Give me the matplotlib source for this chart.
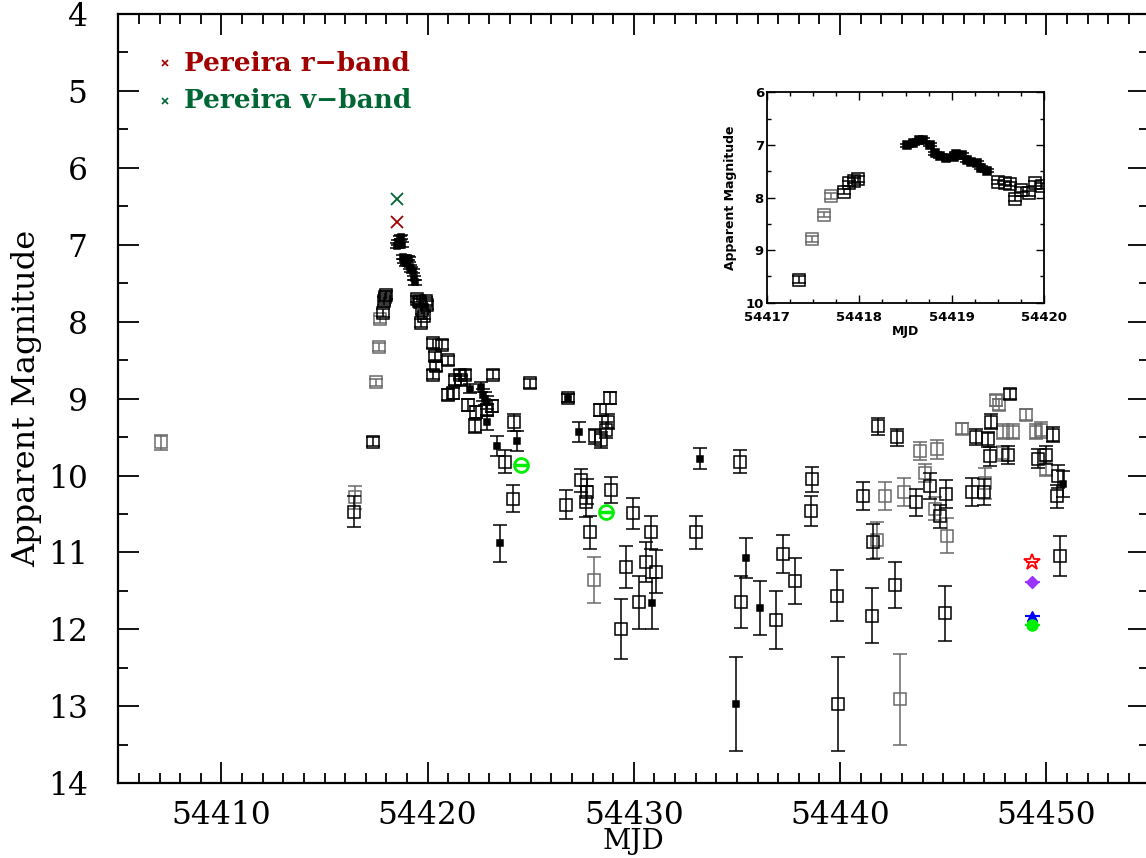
import matplotlib.pyplot as plt
from matplotlib.ticker import MultipleLocator

# black open squares: MJD, magnitude, error
bo_mjd = [54416.45, 54417.35, 54417.83, 54417.89, 54417.94, 54417.99, 54419.50, 54419.57,
          54419.63, 54419.68, 54419.75, 54419.83, 54419.90, 54419.97, 54420.27, 54420.68,
          54420.35, 54420.99, 54420.43, 54420.27, 54421.32, 54421.56, 54421.80, 54421.64,
          54421.24, 54420.99, 54423.18, 54424.96, 54421.97, 54422.37, 54422.86, 54423.10,
          54422.29, 54424.19, 54423.74, 54426.81, 54428.83, 54428.35, 54428.75, 54428.67,
          54428.11, 54428.43, 54424.12, 54427.43, 54427.74, 54427.66, 54426.70, 54428.91,
          54429.96, 54427.86, 54430.82, 54433.00, 54429.61, 54430.61, 54431.05, 54430.26,
          54429.40, 54435.14, 54438.66, 54438.58, 54441.11, 54441.60, 54437.23, 54437.80,
          54435.18, 54436.88, 54439.85, 54441.55, 54439.90, 54441.84, 54442.76, 54444.35,
          54444.83, 54445.12, 54443.66, 54442.67, 54445.07, 54446.61, 54446.41, 54446.96,
          54447.34, 54447.17, 54447.25, 54448.23, 54448.14, 54450.32, 54449.60, 54450.00,
          54450.56, 54450.52, 54450.65]
bo_mag = [10.47, 9.56, 7.89, 7.73, 7.68, 7.65, 7.70, 7.73,
          7.75, 8.02, 7.85, 7.92, 7.73, 7.78, 8.28, 8.30,
          8.45, 8.50, 8.58, 8.69, 8.76, 8.69, 8.69, 8.76,
          8.93, 8.95, 8.69, 8.80, 9.08, 9.17, 9.15, 9.10,
          9.36, 9.31, 9.82, 8.99, 8.99, 9.15, 9.30, 9.41,
          9.49, 9.54, 10.30, 10.06, 10.21, 10.34, 10.38, 10.19,
          10.49, 10.74, 10.74, 10.74, 11.19, 11.13, 11.25, 11.65,
          12.00, 9.82, 10.05, 10.46, 10.27, 10.86, 11.02, 11.37,
          11.64, 11.88, 11.56, 11.82, 12.97, 9.36, 9.50, 10.14,
          10.53, 10.24, 10.35, 11.42, 11.79, 9.50, 10.21, 10.21,
          9.30, 9.53, 9.75, 8.94, 9.73, 9.47, 9.78, 9.73,
          10.01, 10.27, 11.04]
bo_err = [0.20, 0.06, 0.05, 0.05, 0.05, 0.05, 0.04, 0.04,
          0.04, 0.05, 0.05, 0.05, 0.05, 0.05, 0.06, 0.06,
          0.06, 0.06, 0.06, 0.06, 0.06, 0.06, 0.06, 0.06,
          0.07, 0.07, 0.06, 0.06, 0.08, 0.08, 0.08, 0.08,
          0.09, 0.11, 0.15, 0.05, 0.08, 0.08, 0.10, 0.10,
          0.10, 0.10, 0.18, 0.15, 0.16, 0.20, 0.19, 0.17,
          0.20, 0.22, 0.22, 0.22, 0.27, 0.26, 0.28, 0.34,
          0.39, 0.15, 0.16, 0.20, 0.18, 0.23, 0.25, 0.30,
          0.34, 0.38, 0.33, 0.36, 0.61, 0.11, 0.11, 0.17,
          0.15, 0.18, 0.18, 0.30, 0.36, 0.10, 0.18, 0.17,
          0.10, 0.10, 0.12, 0.07, 0.12, 0.10, 0.12, 0.12,
          0.15, 0.15, 0.26]

# grey open squares
go_mjd = [54407.07, 54416.47, 54417.49, 54417.62, 54417.69, 54428.07, 54441.79, 54442.16,
          54442.89, 54443.10, 54443.86, 54444.72, 54444.10, 54444.60, 54445.19, 54445.93,
          54447.01, 54447.58, 54447.71, 54447.90, 54448.38, 54447.90, 54449.00, 54449.52,
          54449.76, 54449.99]
go_mag = [9.57, 10.28, 8.79, 8.33, 7.97, 11.36, 10.84, 10.27,
          12.91, 10.21, 9.68, 9.66, 9.97, 10.43, 10.78, 9.39,
          10.10, 9.02, 9.08, 9.43, 9.43, 9.71, 9.21, 9.43,
          9.41, 9.91]
go_err = [0.10, 0.15, 0.05, 0.05, 0.05, 0.30, 0.23, 0.18,
          0.59, 0.18, 0.12, 0.12, 0.12, 0.15, 0.23, 0.07,
          0.20, 0.07, 0.07, 0.10, 0.10, 0.10, 0.07, 0.10,
          0.10, 0.10]

# filled black squares
bf_mjd = [54418.52, 54418.58, 54418.65, 54418.69, 54418.76, 54418.82, 54418.87, 54418.94,
          54419.02, 54419.05, 54419.11, 54419.16, 54419.21, 54419.27, 54419.32, 54419.38,
          54422.05, 54422.61, 54422.70, 54422.80, 54422.90, 54422.86, 54423.35, 54423.50,
          54424.31, 54426.81, 54427.35, 54430.90, 54433.19, 54435.43, 54436.10, 54434.93,
          54450.80]
bf_mag = [7.01, 6.97, 6.91, 6.90, 7.00, 7.16, 7.21, 7.24,
          7.23, 7.17, 7.19, 7.29, 7.32, 7.34, 7.43, 7.49,
          8.87, 8.85, 8.95, 9.00, 9.05, 9.31, 9.61, 10.88,
          9.55, 8.99, 9.43, 11.66, 9.78, 11.07, 11.72, 12.97,
          10.11]
bf_err = [0.03, 0.03, 0.03, 0.03, 0.03, 0.03, 0.03, 0.03,
          0.03, 0.03, 0.03, 0.03, 0.03, 0.03, 0.03, 0.03,
          0.06, 0.06, 0.08, 0.08, 0.08, 0.10, 0.13, 0.24,
          0.13, 0.05, 0.13, 0.33, 0.14, 0.26, 0.35, 0.61,
          0.17]

# green circles
gc_mjd = [54424.52, 54428.67]
gc_mag = [9.86, 10.48]

# Pereira points
per_r_mjd, per_r_mag = [54418.5], [6.71]
per_v_mjd, per_v_mag = [54418.5], [6.40]

# single-epoch coloured points
sp_mjd = 54449.32
star_mag, diam_mag, tri_mag, circ_mag = 11.13, 11.38, 11.82, 11.94

grey = '#6a6a6a'
red = '#a00000'
dgreen = '#006633'


def draw(a, ms, fms, cs, lw):
    a.errorbar(bo_mjd, bo_mag, yerr=bo_err, fmt='s', ms=ms, mfc='none', mec='k',
               mew=lw, ecolor='k', elinewidth=lw, capsize=cs, capthick=lw, zorder=3)
    a.errorbar(go_mjd, go_mag, yerr=go_err, fmt='s', ms=ms, mfc='none', mec=grey,
               mew=lw, ecolor=grey, elinewidth=lw, capsize=cs, capthick=lw, zorder=2)
    a.errorbar(bf_mjd, bf_mag, yerr=bf_err, fmt='s', ms=fms, mfc='k', mec='k',
               mew=lw, ecolor='k', elinewidth=lw, capsize=cs, capthick=lw, zorder=4)


fig = plt.figure(figsize=(11.46, 8.58), dpi=100)
plt.rcParams['font.family'] = 'DejaVu Serif'

ax = fig.add_axes([0.1032, 0.0871, 0.8998, 0.8966])
draw(ax, 8, 5, 4.7, 1.1)
ax.plot(gc_mjd, gc_mag, 'o', ms=10, mfc='none', mec='#00ee00', mew=2, zorder=5)
ax.plot(gc_mjd, gc_mag, '_', ms=10, mec='#00ee00', mew=2.5, zorder=5)
ax.plot(per_r_mjd, per_r_mag, 'x', ms=8, mec=red, mew=1.3)
ax.plot(per_v_mjd, per_v_mag, 'x', ms=8, mec=dgreen, mew=1.3)

ax.errorbar([sp_mjd], [star_mag], xerr=0.3, fmt='*', ms=12, mfc='none', mec='red',
            mew=1.3, ecolor='red', elinewidth=1.3)
ax.errorbar([sp_mjd], [diam_mag], xerr=0.35, fmt='D', ms=6, mfc='#9933ff', mec='#9933ff',
            ecolor='#9933ff', elinewidth=1.5)
ax.errorbar([sp_mjd], [tri_mag], xerr=0.35, fmt='^', ms=7, mfc='#0000ff', mec='#0000ff',
            ecolor='#0000ff', elinewidth=1.5)
ax.errorbar([sp_mjd], [circ_mag], xerr=0.35, fmt='o', ms=8, mfc='#00ee00', mec='#00ee00',
            ecolor='#00ee00', elinewidth=1.5)

ax.set_xlim(54405, 54455)
ax.set_ylim(14, 4)
ax.xaxis.set_major_locator(MultipleLocator(10))
ax.xaxis.set_minor_locator(MultipleLocator(1))
ax.yaxis.set_major_locator(MultipleLocator(1))
ax.yaxis.set_minor_locator(MultipleLocator(0.5))
ax.tick_params(which='both', direction='in', top=True, right=True, width=1.3)
ax.tick_params(which='major', length=15, labelsize=22.5, pad=12)
ax.tick_params(which='minor', length=7.5)
ax.tick_params(axis='y', pad=22)
ax.ticklabel_format(useOffset=False)
for s in ax.spines.values():
    s.set_linewidth(1.6)
ax.set_xlabel('MJD', fontsize=20, labelpad=-2)
ax.set_ylabel('Apparent Magnitude', fontsize=23, labelpad=4)

# legend-like labels
ax.plot([0.045], [0.936], 'x', ms=5, mec=red, mew=1.2, transform=ax.transAxes)
ax.plot([0.045], [0.887], 'x', ms=5, mec=dgreen, mew=1.2, transform=ax.transAxes)
ax.text(0.064, 0.936, 'Pereira r\u2212band', color=red, fontsize=19, fontweight='bold',
        va='center', ha='left', transform=ax.transAxes)
ax.text(0.064, 0.887, 'Pereira v\u2212band', color=dgreen, fontsize=19, fontweight='bold',
        va='center', ha='left', transform=ax.transAxes)

# inset zoom on the rise
ins = fig.add_axes([0.669, 0.6472, 0.2424, 0.2452])
draw(ins, 8, 6, 5, 1.1)
ins.set_xlim(54417, 54420)
ins.set_ylim(10, 6)
ins.xaxis.set_major_locator(MultipleLocator(1))
ins.xaxis.set_minor_locator(MultipleLocator(0.25))
ins.yaxis.set_major_locator(MultipleLocator(1))
ins.yaxis.set_minor_locator(MultipleLocator(0.5))
ins.tick_params(which='both', direction='in', top=True, right=True, width=1.0)
ins.tick_params(which='major', length=6, labelsize=9.5, pad=2)
ins.tick_params(axis='x', pad=6)
ins.tick_params(which='minor', length=3)
ins.ticklabel_format(useOffset=False)
for lab in ins.get_xticklabels() + ins.get_yticklabels():
    lab.set_fontfamily('DejaVu Sans')
    lab.set_fontweight('bold')
for s in ins.spines.values():
    s.set_linewidth(1.3)
ins.set_xlabel('MJD', fontsize=9, fontweight='bold', family='DejaVu Sans', labelpad=1)
ins.set_ylabel('Apparent Magnitude', fontsize=9, fontweight='bold', family='DejaVu Sans',
               labelpad=6)

fig.savefig('out.png', dpi=100)
